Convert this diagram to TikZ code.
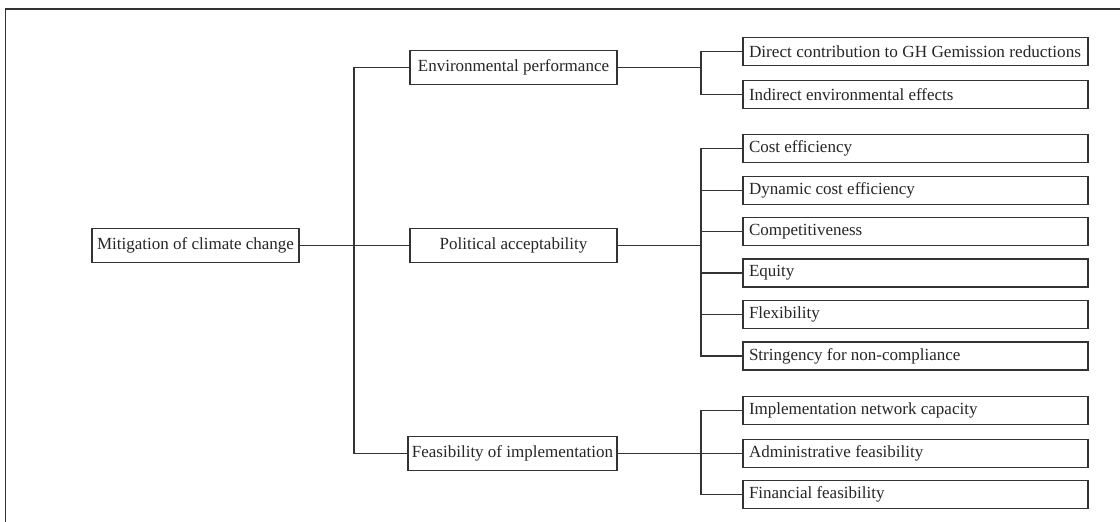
\documentclass[tikz,border=0pt]{standalone}
\usepackage{fontspec}
\setmainfont{Liberation Serif}
\newcommand\leaftxt[1]{\makebox[333pt][l]{#1}}
\begin{document}
\begin{tikzpicture}[x=1pt,y=-1pt,
  line/.style={draw=black!80,line width=1.1pt},
  midbox/.style={line,fill=white,text=black!85,minimum width=207pt,minimum height=34pt,inner xsep=1pt,inner ysep=0pt,font=\fontsize{17}{20}\selectfont},
  leafbox/.style={line,fill=white,text=black!85,minimum width=345pt,minimum height=28pt,inner xsep=6pt,inner ysep=0pt,font=\fontsize{17}{20}\selectfont},
  conn/.style={line}]
\useasboundingbox (0,0) rectangle (1120,522);
\draw[line] (5.5,522) -- (5.5,9) -- (1120,9);
% root
\node[midbox] (root) at (195.5,245.5) {Mitigation of climate change};
% mid level
\node[midbox] (env) at (513.5,67.5) {Environmental performance};
\node[midbox] (pol) at (513.5,245.5) {Political acceptability};
\node[midbox,minimum width=209pt] (fea) at (512.5,453.5) {Feasibility of implementation};
% leaves
\node[leafbox] (d1) at (915.5,51.5) {\leaftxt{\resizebox{332pt}{\height}{Direct contribution to GH Gemission reductions}}};
\node[leafbox] (d2) at (915.5,94.5) {\leaftxt{Indirect environmental effects}};
\node[leafbox] (c1) at (915.5,148.5) {\leaftxt{Cost efficiency}};
\node[leafbox] (c2) at (915.5,190.5) {\leaftxt{Dynamic cost efficiency}};
\node[leafbox] (c3) at (915.5,231.5) {\leaftxt{Competitiveness}};
\node[leafbox] (c4) at (915.5,273) {\leaftxt{Equity}};
\node[leafbox] (c5) at (915.5,314.5) {\leaftxt{Flexibility}};
\node[leafbox] (c6) at (915.5,356) {\leaftxt{Stringency for non-compliance}};
\node[leafbox] (i1) at (915.5,410.5) {\leaftxt{Implementation network capacity}};
\node[leafbox] (i2) at (915.5,453.5) {\leaftxt{Administrative feasibility}};
\node[leafbox] (i3) at (915.5,494.5) {\leaftxt{Financial feasibility}};
% junctions
\coordinate (t1) at (354,245.5);
\coordinate (e2) at (701,67.5);
\coordinate (p2) at (701,245.5);
\coordinate (f2) at (701,453.5);
% first level connectors
\draw[conn] (root.east) -- (pol.west);
\draw[conn] (env.west) -| (t1) |- (fea.west);
% environmental
\draw[conn] (env.east) -- (e2);
\draw[conn] (d1.west) -| (e2) |- (d2.west);
% political
\draw[conn] (pol.east) -- (p2);
\draw[conn] (c1.west) -| (p2) |- (c6.west);
\draw[conn] (c2.west) -- (c2.west -| p2);
\draw[conn] (c3.west) -- (c3.west -| p2);
\draw[conn] (c4.west) -- (c4.west -| p2);
\draw[conn] (c5.west) -- (c5.west -| p2);
% feasibility
\draw[conn] (fea.east) -- (i2.west);
\draw[conn] (i1.west) -| (f2) |- (i3.west);
\end{tikzpicture}
\end{document}
